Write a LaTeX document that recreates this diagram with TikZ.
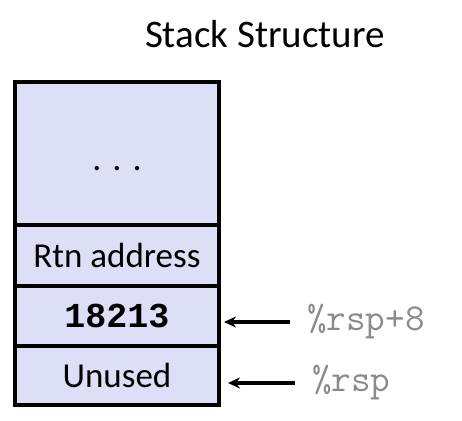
\documentclass[tikz,border=0pt]{standalone}
\usepackage{fontspec}
\setmainfont{Carlito}
\setmonofont{Liberation Mono}
\newfontfamily\lblfont{Latin Modern Mono}
\usetikzlibrary{arrows.meta}
\definecolor{cellfill}{HTML}{DDDFF7}
\definecolor{lblgray}{HTML}{8A8A8A}
\begin{document}
\begin{tikzpicture}[x=1pt,y=1pt,
  cell/.style={draw=black,line width=4pt,fill=cellfill,minimum width=204pt,inner sep=0pt,font=\fontsize{35}{40}\selectfont},
  arr/.style={line width=3.5pt,-{Stealth[length=12pt,width=11pt]}},
  lbl/.style={anchor=west,text=lblgray,inner sep=0pt,font=\lblfont\fontsize{38}{44}\selectfont}]
\useasboundingbox (0,0) rectangle (462,420);
\node[font=\fontsize{39}{44}\selectfont] (title) at (265,386) {Stack Structure};
\node[cell,minimum height=143pt] (c1) at (117,266.5) {};
\node[anchor=base,inner sep=0pt] (dots) at (117,249) {\fontsize{36}{40}\selectfont.\hspace{11pt}.\hspace{11pt}.};
\node[cell,minimum height=61pt] (c2) at (117,164.5) {Rtn address};
\node[cell,minimum height=60pt] (c3) at (117,104) {\ttfamily\bfseries 18213};
\node[cell,minimum height=59pt] (c4) at (117,44.5) {Unused};
\node[lbl] (l1) at (307,98) {\%rsp+8};
\node[lbl] (l2) at (312,37) {\%rsp};
\coordinate (s1) at (290,98);
\coordinate (s2) at (295,37);
\draw[arr] (s1) -- ([xshift=3pt]c3.east |- s1);
\draw[arr] (s2) -- ([xshift=7pt]c4.east |- s2);
\end{tikzpicture}
\end{document}
